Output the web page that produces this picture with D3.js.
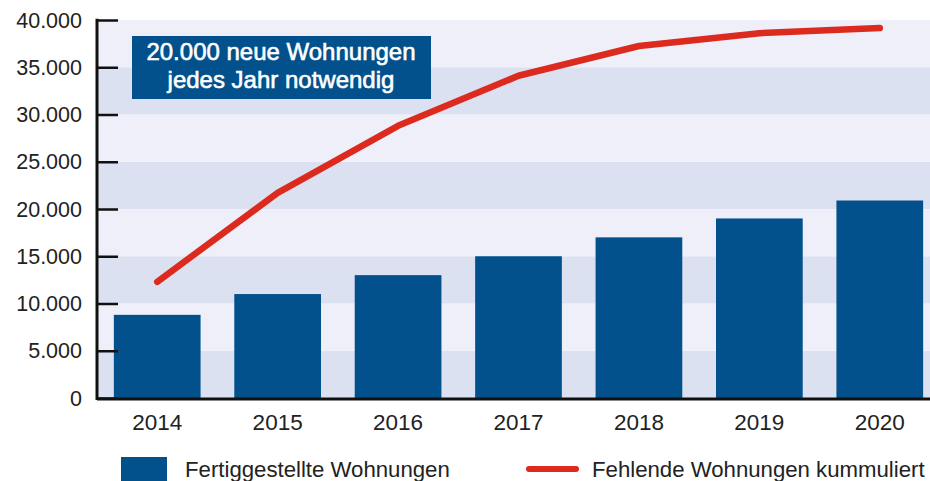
<!DOCTYPE html>
<html><head><meta charset="utf-8">
<script src="https://cdn.jsdelivr.net/npm/d3@7"></script>
<style>body{margin:0;background:#fff}svg{display:block}text{font-family:"Liberation Sans",Arial,sans-serif}</style>
</head><body><svg id="c" width="930" height="481"></svg>
<script>
const years = ["2014","2015","2016","2017","2018","2019","2020"];
const completed = [8800, 11000, 13000, 15000, 17000, 19000, 20900];
const missingCumulative = [12300, 21700, 28800, 34100, 37250, 38600, 39150];
const yTicks = [0, 5000, 10000, 15000, 20000, 25000, 30000, 35000, 40000];
const tickLabels = ["0","5.000","10.000","15.000","20.000","25.000","30.000","35.000","40.000"];
const legendLabels = ["Fertiggestellte Wohnungen","Fehlende Wohnungen kummuliert"];
const noteLines = ["20.000 neue Wohnungen","jedes Jahr notwendig"];

(function(){
const blue = "#02518c", red = "#dd2a1e";
const svg = d3.select("#c");
const mL = 97, mR = 940, mT = 20, mB = 398;
const x = d3.scaleBand().domain(years).range([mL, mR]).paddingInner(0.28).paddingOuter(0.14);
const y = d3.scaleLinear().domain([0, 40000]).range([mB, mT]);

// bands
const bands = d3.pairs(yTicks);
svg.append("g").selectAll("rect").data(bands).join("rect")
  .attr("x", mL).attr("width", 930 - mL)
  .attr("y", d => y(d[1])).attr("height", d => y(d[0]) - y(d[1]))
  .attr("fill", (d, i) => i % 2 === 0 ? "#dce1f1" : "#eeeff9");

// bars
svg.append("g").selectAll("rect").data(years).join("rect")
  .attr("x", d => x(d)).attr("width", x.bandwidth())
  .attr("y", (d, i) => y(completed[i])).attr("height", (d, i) => y(0) - y(completed[i]))
  .attr("fill", blue);

// line
const line = d3.line().x((d, i) => x(years[i]) + x.bandwidth() / 2).y(d => y(d));
svg.append("path").datum(missingCumulative).attr("d", line)
  .attr("fill", "none").attr("stroke", red).attr("stroke-width", 6.5)
  .attr("stroke-linecap", "round").attr("stroke-linejoin", "round");

// y axis
const yAxis = d3.axisRight(y).tickValues(yTicks).tickSize(21).tickFormat("");
const gy = svg.append("g").attr("transform", `translate(${mL},0)`).call(yAxis);
gy.select(".domain").remove();
gy.selectAll(".tick line").attr("stroke", "#111").attr("stroke-width", 2.5);
svg.append("line").attr("x1", mL).attr("x2", mL).attr("y1", mT - 1.2).attr("y2", mB + 2)
  .attr("stroke", "#111").attr("stroke-width", 3);
svg.append("g").selectAll("text").data(yTicks).join("text")
  .attr("x", 82).attr("y", d => y(d)).attr("dy", "0.36em")
  .attr("text-anchor", "end").attr("font-size", 21.5).attr("fill", "#222")
  .text((d, i) => tickLabels[i]);

// x axis
svg.append("line").attr("x1", mL).attr("x2", 930).attr("y1", mB + 1).attr("y2", mB + 1)
  .attr("stroke", "#111").attr("stroke-width", 3);
const xAxis = d3.axisBottom(x).tickSize(0);
const gx = svg.append("g").attr("transform", `translate(0,${mB})`).call(xAxis);
gx.select(".domain").remove();
gx.selectAll(".tick text").attr("font-size", 22.5).attr("fill", "#222").attr("dy", 0).attr("y", 32)
  .attr("font-family", '"Liberation Sans",Arial,sans-serif');

// note box
svg.append("rect").attr("x", 132).attr("y", 36).attr("width", 299).attr("height", 63).attr("fill", blue);
svg.append("g").selectAll("text").data(noteLines).join("text")
  .attr("x", 281).attr("y", (d, i) => 60 + i * 28).attr("text-anchor", "middle")
  .attr("font-size", 24).attr("fill", "#fff")
  .attr("stroke", "#fff").attr("stroke-width", 0.6).text(d => d);

// legend
svg.append("rect").attr("x", 121).attr("y", 457).attr("width", 46).attr("height", 24).attr("fill", blue);
svg.append("text").attr("x", 185).attr("y", 477).attr("font-size", 22.2).attr("fill", "#222").text(legendLabels[0]);
svg.append("line").attr("x1", 529).attr("x2", 576).attr("y1", 469).attr("y2", 469)
  .attr("stroke", red).attr("stroke-width", 6).attr("stroke-linecap", "round");
svg.append("text").attr("x", 592).attr("y", 477).attr("font-size", 22.2).attr("fill", "#222").text(legendLabels[1]);
})();
</script></body></html>
